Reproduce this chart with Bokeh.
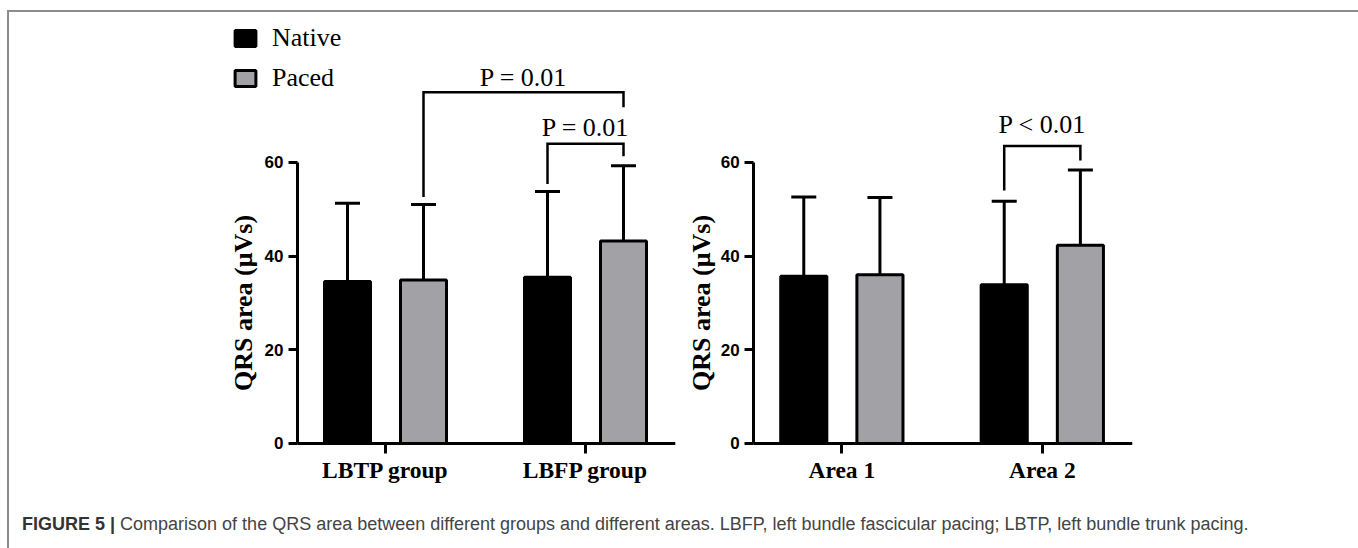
import math
from bokeh.plotting import figure
from bokeh.models import (ColumnDataSource, Range1d, FixedTicker, Whisker, TeeHead,
                          Legend, LegendItem, Div)
from bokeh.layouts import row, column
from bokeh.transform import dodge
from bokeh.core.properties import value
from bokeh.embed import file_html
from bokeh.resources import INLINE

# ---------------- data ----------------
groups_left = ["LBTP group", "LBFP group"]
native_left_mean = [34.6, 35.5]
native_left_sd = [16.7, 18.3]
paced_left_mean = [34.9, 43.2]
paced_left_sd = [16.1, 16.1]

groups_right = ["Area 1", "Area 2"]
native_right_mean = [35.7, 33.9]
native_right_sd = [16.9, 17.8]
paced_right_mean = [36.0, 42.3]
paced_right_sd = [16.5, 16.1]

series_names = ["Native", "Paced"]
y_ticks = [0, 20, 40, 60]
y_label = "QRS area (μVs)"

# significance brackets: (from group idx, from series, to group idx, to series,
#                         bracket level, left leg end, right leg end, text level, text)
brackets_left = [
    (0, "Paced", 1, "Paced", 75.0, 52.6, 71.8, 78.1, "P = 0.01"),
    (1, "Native", 1, "Paced", 64.0, 55.4, 61.3, 67.4, "P = 0.01"),
]
brackets_right = [
    (1, "Native", 1, "Paced", 63.5, 54.0, 60.4, 68.1, "P < 0.01"),
]

caption_bold = "FIGURE 5 |"
caption_text = ("Comparison of the QRS area between different groups and different areas. "
                "LBFP, left bundle fascicular pacing; LBTP, left bundle trunk pacing.")

# ---------------- styling ----------------
NATIVE_COLOR = "#000000"
PACED_COLOR = "#a2a2a6"
OFFSETS = {"Native": -0.19, "Paced": 0.19}
BAR_W = 0.23
SERIF = "Liberation Serif"
SANS = "Liberation Sans"
X_AXIS_START = -0.44
X_END = 1.45
Y_TOP = 92.0
Y_BOTTOM = -11.1


def make_panel(groups, nat_m, nat_sd, pac_m, pac_sd, brackets, width, x_start, mbr,
               label_x, legend=False):
    src = ColumnDataSource(dict(
        x=list(range(len(groups))),
        native=nat_m,
        native_up=[m + s for m, s in zip(nat_m, nat_sd)],
        paced=pac_m,
        paced_up=[m + s for m, s in zip(pac_m, pac_sd)],
    ))
    p = figure(width=width, height=483, output_backend="svg", toolbar_location=None,
               x_range=Range1d(x_start, X_END), y_range=Range1d(Y_BOTTOM, Y_TOP),
               min_border_left=0, min_border_right=mbr, min_border_top=0,
               min_border_bottom=0)
    p.grid.visible = False
    p.outline_line_color = None
    p.background_fill_color = "white"
    p.border_fill_color = "white"

    r_nat = p.vbar(x=dodge("x", OFFSETS["Native"]), top="native", bottom=0, width=BAR_W,
                   source=src, fill_color=NATIVE_COLOR, line_color="black", line_width=3)
    r_pac = p.vbar(x=dodge("x", OFFSETS["Paced"]), top="paced", bottom=0, width=BAR_W,
                   source=src, fill_color=PACED_COLOR, line_color="black", line_width=3)

    for key in ("native", "paced"):
        off = OFFSETS[key.capitalize()]
        w = Whisker(source=src, base=dodge("x", off), lower=key, upper=key + "_up",
                    line_width=3, line_color="black",
                    upper_head=TeeHead(size=25, line_width=3, line_color="black"),
                    lower_head=None)
        p.add_layout(w)

    for (ga, sa, gb, sb, yb, la, lb, ty, txt) in brackets:
        xa = ga + OFFSETS[sa]
        xb = gb + OFFSETS[sb]
        p.line(x=[xa, xa, xb, xb], y=[la, yb, yb, lb], line_color="black",
               line_width=2.5, line_join="miter")
        p.text(x=[(xa + xb) / 2], y=[ty], text=[txt], text_font=value(SERIF),
               text_font_size="26px", text_align="center", text_baseline="middle",
               text_color="black")

    # axes
    xa_ = p.xaxis[0]
    xa_.fixed_location = 0
    xa_.bounds = (X_AXIS_START, X_END)
    xa_.ticker = FixedTicker(ticks=list(range(len(groups))))
    xa_.major_label_overrides = {i: g for i, g in enumerate(groups)}
    xa_.axis_line_width = 3
    xa_.major_tick_line_width = 3
    xa_.major_tick_out = 10
    xa_.major_tick_in = 0
    xa_.minor_tick_out = 0
    xa_.minor_tick_in = 0
    xa_.major_label_text_font = SERIF
    xa_.major_label_text_font_style = "bold"
    xa_.major_label_text_font_size = "23.5px"
    xa_.major_label_text_color = "black"
    xa_.major_label_standoff = 4

    ya = p.yaxis[0]
    ya.fixed_location = X_AXIS_START
    ya.bounds = (0, 60)
    ya.ticker = FixedTicker(ticks=y_ticks)
    ya.axis_line_width = 3
    ya.major_tick_line_width = 3
    ya.major_tick_out = 9
    ya.major_tick_in = 0
    ya.minor_tick_out = 0
    ya.minor_tick_in = 0
    ya.major_label_text_font = SANS
    ya.major_label_text_font_style = "bold"
    ya.major_label_text_font_size = "17px"
    ya.major_label_text_color = "black"
    ya.major_label_standoff = 5

    p.text(x=[label_x], y=[30], text=[y_label], angle=math.pi / 2,
           text_align="center", text_baseline="middle",
           text_font=value(SERIF), text_font_style="bold",
           text_font_size="26px", text_color="black")

    if legend:
        lg = Legend(items=[LegendItem(label=series_names[0], renderers=[r_nat]),
                           LegendItem(label=series_names[1], renderers=[r_pac])],
                    location=(223, 402), orientation="vertical",
                    glyph_width=26, glyph_height=20, label_height=20,
                    label_standoff=14, spacing=10, padding=0, margin=0,
                    label_text_font=SERIF, label_text_font_size="26px",
                    label_text_color="black",
                    border_line_alpha=0, background_fill_alpha=0)
        p.add_layout(lg)
    return p


# left panel: canvas x 9..680, y-axis at 297 -> x_start = -0.44 - 288/200
p1 = make_panel(groups_left, native_left_mean, native_left_sd, paced_left_mean,
                paced_left_sd, brackets_left, 671, -1.88, 5, -0.71, legend=True)
# right panel: canvas x 680..1355, y-axis at 753 -> x_start = -0.44 - 73/200
p2 = make_panel(groups_right, native_right_mean, native_right_sd, paced_right_mean,
                paced_right_sd, brackets_right, 675, -0.805, 223, -0.70)

cap = Div(text=('<div style="font-family: \'Liberation Sans\', Arial, sans-serif; '
                'font-size:18px; color:#444; margin-left:8px; padding-top:12px; '
                'white-space:nowrap;"><b style="color:#333">' + caption_bold + '</b> '
                + caption_text + '</div>'), width=1346, height=50)

layout = column(row(p1, p2), cap,
                styles={"margin-left": "7px", "margin-top": "10px",
                        "border-top": "2px solid #8c8c8c",
                        "border-left": "2px solid #8c8c8c",
                        "border-right": "2px solid #8c8c8c"})

open("out.html", "w").write(file_html(layout, INLINE))
